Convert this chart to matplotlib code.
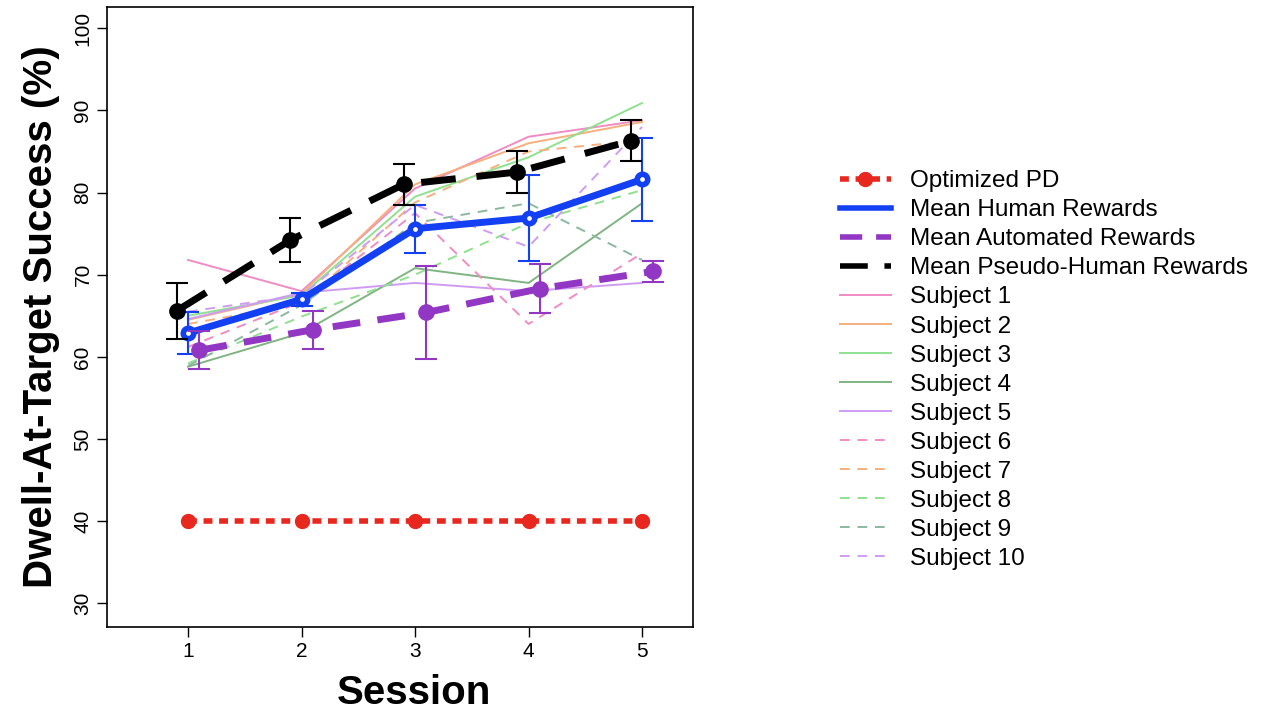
import matplotlib.pyplot as plt
from matplotlib.lines import Line2D

plt.rcParams['font.family'] = ['Liberation Sans', 'DejaVu Sans']

# sessions
sessions = [1, 2, 3, 4, 5]

# mean curves and their error bars
optimized_pd = [40, 40, 40, 40, 40]
human_mean = [62.9, 67.0, 75.6, 76.9, 81.6]
human_err = [2.5, 0.8, 2.9, 5.2, 5.1]
auto_mean = [60.8, 63.3, 65.4, 68.3, 70.4]
auto_err = [2.3, 2.3, 5.7, 3.0, 1.3]
pseudo_mean = [65.6, 74.2, 81.0, 82.5, 86.3]
pseudo_err = [3.4, 2.7, 2.5, 2.6, 2.5]

# individual subjects (human rewards)
subj1 = [71.8, 68.0, 80.5, 86.8, 88.8]
subj2 = [64.5, 67.7, 81.0, 86.0, 88.6]
subj3 = [65.0, 67.5, 79.5, 84.3, 90.9]
subj4 = [58.8, 62.9, 70.8, 69.0, 78.7]
subj5 = [64.6, 67.8, 69.0, 68.0, 69.0]
subj6 = [61.2, 66.7, 77.5, 64.0, 72.6]
subj7 = [64.0, 66.5, 78.8, 85.0, 86.4]
subj8 = [59.2, 64.9, 70.0, 76.3, 80.3]
subj9 = [58.9, 66.3, 76.3, 78.7, 71.8]
subj10 = [65.5, 67.5, 78.5, 73.4, 88.0]

subjects = [subj1, subj2, subj3, subj4, subj5, subj6, subj7, subj8, subj9, subj10]
subj_colors = ['#ef8cc4', '#f5b07e', '#8fe08f', '#80b482', '#cf9cf2',
               '#ef8cc4', '#f5b07e', '#8fe08f', '#8cb8a0', '#cf9cf2']
subj_styles = ['-'] * 5 + [(0, (5, 4))] * 5

fig = plt.figure(figsize=(12.66, 7.13), dpi=100)
ax = fig.add_axes([0.0845, 0.1206, 0.463, 0.8696])

for i, ys in enumerate(subjects):
    ax.plot(sessions, ys, color=subj_colors[i], linestyle=subj_styles[i], lw=1.4, zorder=2)

red = '#e8281e'
blue = '#1240f2'
purple = '#9236c4'
red_ls = (0, (1.6, 1.2))
auto_ls = (0, (4, 2.5))
pseudo_ls = (0, (5, 3))

ax.plot(sessions, optimized_pd, color=red, lw=4, linestyle=red_ls,
        marker='o', ms=10, zorder=3)

# shifted x positions so the error bars don't overlap
x_auto = [s + 0.1 for s in sessions]
x_pseudo = [s - 0.1 for s in sessions]

ax.errorbar(sessions, human_mean, yerr=human_err, fmt='none', ecolor=blue,
            elinewidth=1.5, capsize=8, capthick=1.5, zorder=4)
ax.plot(sessions, human_mean, color=blue, lw=5, marker='o', ms=7.5,
        mfc='white', mec=blue, mew=4, zorder=4)
ax.errorbar(x_auto, auto_mean, yerr=auto_err, fmt='none', ecolor=purple,
            elinewidth=1.5, capsize=8, capthick=1.5, zorder=4)
ax.plot(x_auto, auto_mean, color=purple, lw=5, ls=auto_ls, marker='o', ms=11, zorder=4)
ax.errorbar(x_pseudo, pseudo_mean, yerr=pseudo_err, fmt='none', ecolor='black',
            elinewidth=1.5, capsize=8, capthick=1.5, zorder=5)
ax.plot(x_pseudo, pseudo_mean, color='black', lw=5, ls=pseudo_ls, marker='o', ms=11, zorder=5)

ax.set_xlim(0.286, 5.45)
ax.set_ylim(27.1, 102.6)
ax.set_xticks(sessions)
ax.set_yticks(range(30, 101, 10))
ax.tick_params(direction='out', length=7, width=1, labelsize=15)
for lab in ax.get_yticklabels():
    lab.set_rotation(90)
    lab.set_va('center')
for sp in ax.spines.values():
    sp.set_linewidth(1.2)

ax.set_xlabel('Session', fontsize=29, fontweight='bold', labelpad=4)
ax.xaxis.set_label_coords(0.524, -0.075)
ax.set_ylabel('Dwell-At-Target Success (%)', fontsize=29, fontweight='bold', labelpad=10)

# legend
handles = [
    Line2D([], [], color=red, lw=4, ls=red_ls, marker='o', ms=10),
    Line2D([], [], color=blue, lw=4),
    Line2D([], [], color=purple, lw=4, ls=auto_ls),
    Line2D([], [], color='black', lw=4, ls=pseudo_ls),
]
labels = ['Optimized PD', 'Mean Human Rewards', 'Mean Automated Rewards',
          'Mean Pseudo-Human Rewards']
for i in range(10):
    handles.append(Line2D([], [], color=subj_colors[i], ls=subj_styles[i], lw=1.4))
    labels.append('Subject %d' % (i + 1))

fig.legend(handles, labels, loc='upper left', bbox_to_anchor=(0.646, 0.792), frameon=False,
           fontsize=17.5, handlelength=2.1, handletextpad=0.8, labelspacing=0.29)

fig.savefig('out.png', dpi=100)
